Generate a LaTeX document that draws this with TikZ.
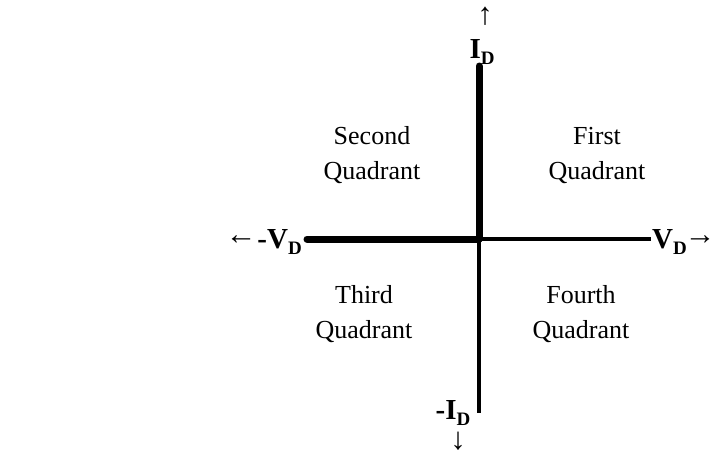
\documentclass[tikz,border=0pt]{standalone}
\usepackage{fontspec}
\setmainfont{Liberation Serif}
\newcommand{\subD}{\raisebox{-0.22em}{\fontsize{19}{19}\selectfont D}}

\begin{document}
\begin{tikzpicture}[x=1pt,y=-1pt,
    heavy/.style={line width=7pt,line cap=round},
    thin/.style={line width=3.5pt},
    quad/.style={font=\fontsize{26}{35}\selectfont,align=center},
    lab/.style={font=\fontsize{29}{29}\selectfont\bfseries,inner sep=0pt},
    arr/.style={font=\bfseries\fontsize{31}{31}\selectfont,inner sep=0pt}]
  \useasboundingbox (0,0) rectangle (713,453);
  % axes
  \coordinate (o) at (479,239);
  \coordinate (top) at (479,66);
  \coordinate (bot) at (479,413);
  \coordinate (left) at (307,239);
  \coordinate (right) at (651,239);
  \draw[heavy] (left) -- (o);
  \draw[heavy] (o) -- (top);
  \draw[thin] (o) -- (right);
  \draw[thin] (o) -- (bot);
  % axis labels
  \node[lab,anchor=base] (id) at (482,58) {I\subD};
  \node[lab,anchor=base] (nid) at (453,419) {-I\subD};
  \node[lab,anchor=base east] (nvd) at (302,248) {-V\subD};
  \node[lab,anchor=base west] (vd) at (652,248) {V\subD};
  \node[arr] (up) at (485,16) {↑};
  \node[arr] (down) at (458,441) {↓};
  \node[arr] (la) at (241,240) {←};
  \node[arr] (ra) at (700,240) {→};
  % quadrants
  \node[quad] (q2) at (372,155) {Second\\Quadrant};
  \node[quad] (q1) at (597,155) {First\\Quadrant};
  \node[quad] (q3) at (364,314) {Third\\Quadrant};
  \node[quad] (q4) at (581,314) {Fourth\\Quadrant};
\end{tikzpicture}
\end{document}
